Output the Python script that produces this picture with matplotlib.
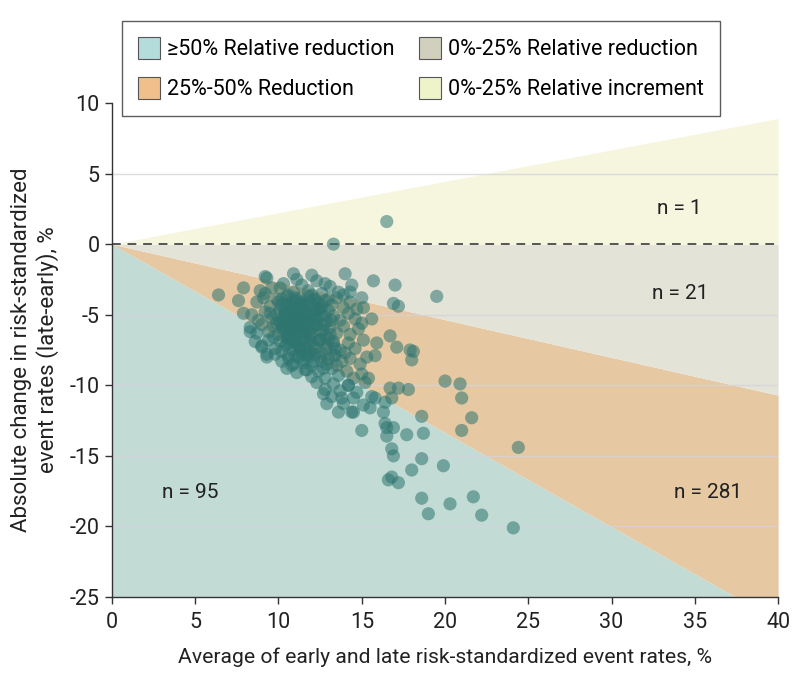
import matplotlib.pyplot as plt
from matplotlib.patches import Patch

plt.rcParams['font.family'] = ['Roboto', 'DejaVu Sans']
plt.rcParams['axes.unicode_minus'] = False

# -----------------------------
# 1. Data
# -----------------------------
# region boundaries (average rate -> absolute change)
band_x = [0, 40]
incr_25 = [0, 8.9]
red_25 = [0, -10.7]
red_50 = [0, -26.7]

# sparse / outlying hospitals
outer_avg = [16.5, 13.3, 6.4, 19.5, 17.0, 16.9, 17.2, 14.0, 15.7, 10.9, 12.0, 9.3, 7.9, 7.6,
             7.9, 8.3, 9.0, 9.3, 10.8, 11.7, 12.7, 12.9, 13.6, 14.4, 15.0, 16.3, 16.4, 16.5,
             16.9, 16.5, 16.8, 16.9, 16.6, 16.8, 17.2, 18.0, 18.6, 19.9, 18.6, 21.7, 20.3,
             19.0, 22.2, 24.1, 24.4, 20.0, 20.9, 21.0, 21.6, 21.0, 18.6, 17.7, 18.7, 17.8,
             17.2, 16.7, 16.8, 16.4, 15.5, 14.5, 15.8, 15.4, 14.2, 13.8, 16.7, 15.9, 17.1,
             17.9, 18.1, 18.0, 15.8, 15.6, 15.1, 15.0, 14.3, 12.8, 10.1, 8.9, 9.2]
outer_change = [1.6, 0.0, -3.6, -3.7, -2.9, -4.2, -4.4, -2.1, -2.6, -2.1, -2.2, -2.4, -3.1, -4.0,
                -4.9, -6.2, -7.2, -7.8, -8.6, -8.9, -10.6, -11.3, -11.9, -11.9, -13.2, -11.9,
                -12.7, -13.0, -13.0, -13.6, -14.5, -15.0, -16.7, -16.5, -16.9, -16.0, -15.2,
                -15.7, -18.0, -17.9, -18.4, -19.1, -19.2, -20.1, -14.4, -9.7, -9.9, -10.9,
                -12.3, -13.2, -12.2, -13.5, -13.4, -10.3, -10.2, -10.2, -10.9, -11.2, -11.6,
                -11.9, -10.9, -9.5, -10.0, -10.9, -6.5, -7.0, -7.3, -7.5, -7.6, -8.2, -7.9,
                -5.3, -4.5, -3.8, -3.4, -2.8, -3.1, -3.3, -2.3]

# dense cluster of hospitals
cluster_avg = [9.6, 10.3, 10.9, 11.4, 11.8, 12.3, 12.6, 13.1, 13.6, 14.4, 10.6, 11.1, 12.0, 9.2, 13.9,
               8.7, 9.1, 9.5, 9.9, 10.2, 10.5, 10.8, 11.0, 11.3, 11.6, 11.9, 12.2, 12.5, 12.8,
               13.2, 13.5, 13.9, 14.3, 14.7, 10.4, 11.4, 12.4,
               8.4, 8.8, 9.2, 9.6, 9.9, 10.1, 10.4, 10.6, 10.9, 11.1, 11.3, 11.5, 11.8, 12.0,
               12.3, 12.6, 12.9, 13.3, 13.7, 14.2, 14.6, 15.0, 10.7, 11.7, 10.3, 11.2,
               8.3, 8.7, 9.0, 9.4, 9.7, 10.0, 10.2, 10.4, 10.7, 10.9, 11.1, 11.3, 11.5, 11.7,
               12.0, 12.2, 12.5, 12.8, 13.1, 13.5, 13.9, 14.3, 14.8, 10.5, 11.0, 11.9, 10.8,
               8.6, 9.0, 9.4, 9.8, 10.1, 10.4, 10.6, 10.9, 11.1, 11.4, 11.6, 11.9, 12.2, 12.5,
               12.9, 13.3, 13.7, 14.2, 14.6, 15.1, 10.2, 11.3,
               9.3, 9.8, 10.2, 10.6, 10.9, 11.2, 11.5, 11.8, 12.1, 12.5, 12.9, 13.3, 13.8,
               14.3, 14.9, 15.3,
               10.5, 11.1, 11.6, 12.0, 12.4, 12.8, 13.2, 13.6, 14.1, 14.5, 15.0,
               12.3, 12.8, 13.3, 13.7, 14.2, 14.7, 15.2,
               13.2, 13.9, 14.5, 15.1, 15.6,
               10.5, 11.0, 11.5, 10.8, 11.2, 10.3, 11.6, 10.6, 11.4, 12.1, 10.9, 11.5, 10.1,
               12.3, 11.8, 12.4, 10.7, 11.2, 9.7, 9.9, 10.0, 12.7, 13.0, 11.9, 12.6, 13.4,
               12.1, 13.0, 9.5, 11.0, 10.4, 11.7, 12.2, 10.8, 11.3, 11.6, 12.0, 12.7, 13.5, 14.0,
               10.2, 10.6, 11.0, 11.4, 11.8, 12.2, 12.6, 13.0, 10.4, 10.8, 11.2, 11.6, 12.0,
               12.4, 12.8, 13.2, 10.3, 10.7, 11.1, 11.5, 11.9, 12.3, 12.7, 13.1, 10.5, 10.9,
               11.3, 11.7, 12.1, 12.5, 12.9, 13.3, 10.6, 11.0, 11.4, 11.8, 12.2, 12.6, 13.0,
               13.4]
cluster_change = [-3.1, -2.8, -3.4, -2.9, -3.3, -2.6, -3.5, -3.0, -3.4, -2.9, -3.6, -2.5, -3.6, -3.5, -3.6,
                  -4.1, -3.8, -4.4, -3.9, -4.3, -3.7, -4.5, -4.0, -3.8, -4.4, -4.1, -3.9, -4.6, -4.0,
                  -4.3, -3.8, -4.5, -4.1, -4.6, -4.6, -4.6, -4.2,
                  -5.0, -5.4, -4.8, -5.3, -5.0, -5.5, -4.9, -5.3, -5.0, -5.5, -4.8, -5.2, -5.5, -4.9,
                  -5.3, -5.0, -5.5, -5.1, -5.4, -4.9, -5.3, -5.6, -4.7, -4.8, -5.2, -5.1,
                  -5.9, -6.3, -5.7, -6.2, -5.8, -6.4, -5.9, -6.2, -5.7, -6.5, -6.0, -5.7, -6.3, -5.9,
                  -6.4, -5.8, -6.1, -6.5, -5.9, -6.3, -5.8, -6.4, -6.0, -6.6, -5.8, -6.0, -6.1,
                  -6.9, -7.3, -6.8, -7.4, -6.9, -7.2, -6.7, -7.5, -7.0, -6.8, -7.3, -6.9, -7.4, -6.8,
                  -7.2, -6.9, -7.5, -7.0, -7.4, -6.8, -7.6, -7.6,
                  -8.0, -7.8, -8.3, -7.9, -8.5, -8.0, -8.4, -7.8, -8.3, -8.0, -8.5, -7.9, -8.3,
                  -8.1, -8.5, -8.0,
                  -8.8, -9.1, -8.9, -9.4, -9.0, -9.5, -8.8, -9.3, -9.0, -9.5, -9.2,
                  -9.8, -10.3, -9.9, -10.4, -10.0, -10.5, -9.8,
                  -10.8, -11.3, -10.9, -11.4, -10.8,
                  -5.6, -5.3, -5.6, -5.5, -6.3, -5.8, -6.6, -6.4, -5.4, -5.6, -4.4, -4.2, -4.7,
                  -4.6, -6.2, -6.8, -7.0, -7.3, -6.6, -5.6, -4.1, -5.7, -6.7, -7.6, -7.7, -7.4,
                  -4.4, -4.7, -4.9, -6.8, -5.4, -5.1, -5.1, -4.2, -4.3, -7.8, -8.6, -8.8, -8.6, -7.7,
                  -3.9, -4.2, -3.8, -4.1, -3.7, -4.0, -4.4, -3.9, -5.0, -4.8, -5.2, -4.9, -5.3,
                  -4.7, -5.1, -5.4, -6.0, -6.3, -5.9, -6.2, -6.5, -5.7, -6.1, -6.4, -7.1, -6.9,
                  -7.3, -7.0, -7.2, -6.8, -7.4, -7.1, -8.1, -7.9, -8.2, -8.0, -7.8, -8.3, -8.1,
                  -7.9]

n_labels = ["n = 1", "n = 21", "n = 281", "n = 95"]
n_pos = [(34.1, 2.5), (34.1, -3.5), (35.8, -17.6), (4.7, -17.6)]

yticks = [-25, -20, -15, -10, -5, 0, 5, 10]
xticks = [0, 5, 10, 15, 20, 25, 30, 35, 40]

# -----------------------------
# 2. Plot
# -----------------------------
fig = plt.figure(figsize=(7.94, 6.82), dpi=100)
ax = fig.add_axes([0.141, 0.1246, 0.839, 0.7244])

ax.fill_between(band_x, -25, red_50, color='#c3dbd5', lw=0, zorder=0)
ax.fill_between(band_x, red_50, red_25, color='#e6c8a2', lw=0, zorder=0)
ax.fill_between(band_x, red_25, [0, 0], color='#e4e3d8', lw=0, zorder=0)
ax.fill_between(band_x, [0, 0], incr_25, color='#f6f6df', lw=0, zorder=0)

for yv in [5, -5, -10, -15, -20]:
    ax.axhline(yv, color='#d4d4dc', lw=1, alpha=0.8, zorder=1)
ax.plot([0, 40], [0, 0], color='#555555', lw=1.4, ls=(0, (4.5, 3.5)), zorder=2)

ax.scatter(cluster_avg, cluster_change, s=90, color='#2e7570', alpha=0.55,
           edgecolors='none', zorder=3)
ax.scatter(outer_avg, outer_change, s=90, color='#2e7570', alpha=0.55,
           edgecolors='none', zorder=3)

for lab, (xx, yy) in zip(n_labels, n_pos):
    ax.text(xx, yy, lab, fontsize=15, ha='center', va='center', color='#222222', zorder=4)

ax.set_xlim(0, 40)
ax.set_ylim(-25, 10)
ax.set_xticks(xticks)
ax.set_yticks(yticks)
ax.tick_params(labelsize=15.5, length=5, width=1, pad=4, color='#333333', labelcolor='#222222')
ax.tick_params(axis='x', pad=6)
for side in ['top', 'right']:
    ax.spines[side].set_visible(False)
for side in ['left', 'bottom']:
    ax.spines[side].set_color('#333333')
    ax.spines[side].set_linewidth(1)

ax.set_xlabel("Average of early and late risk-standardized event rates, %",
              fontsize=15.2, color='#222222', labelpad=10)
ax.set_ylabel("Absolute change in risk-standardized\nevent rates (late-early), %",
              fontsize=16, color='#222222', labelpad=7.5, linespacing=1.2)

handles = [
    Patch(facecolor='#b3dcdb', edgecolor='#555555', lw=0.8, label='≥50% Relative reduction'),
    Patch(facecolor='#f0bf8c', edgecolor='#555555', lw=0.8, label='25%-50% Reduction'),
    Patch(facecolor='#d1d0bd', edgecolor='#555555', lw=0.8, label='0%-25% Relative reduction'),
    Patch(facecolor='#eff3c9', edgecolor='#555555', lw=0.8, label='0%-25% Relative increment'),
]
leg = fig.legend(handles=handles, ncol=2, loc='upper left', bbox_to_anchor=(0.140, 0.985),
                 fontsize=15.5, frameon=True, fancybox=False, handlelength=1.0,
                 handleheight=1.15, handletextpad=0.35, columnspacing=1.15,
                 labelspacing=0.8, borderpad=0.75)
leg.get_frame().set_edgecolor('#333333')
leg.get_frame().set_linewidth(1)

plt.savefig("out.png", dpi=100)
